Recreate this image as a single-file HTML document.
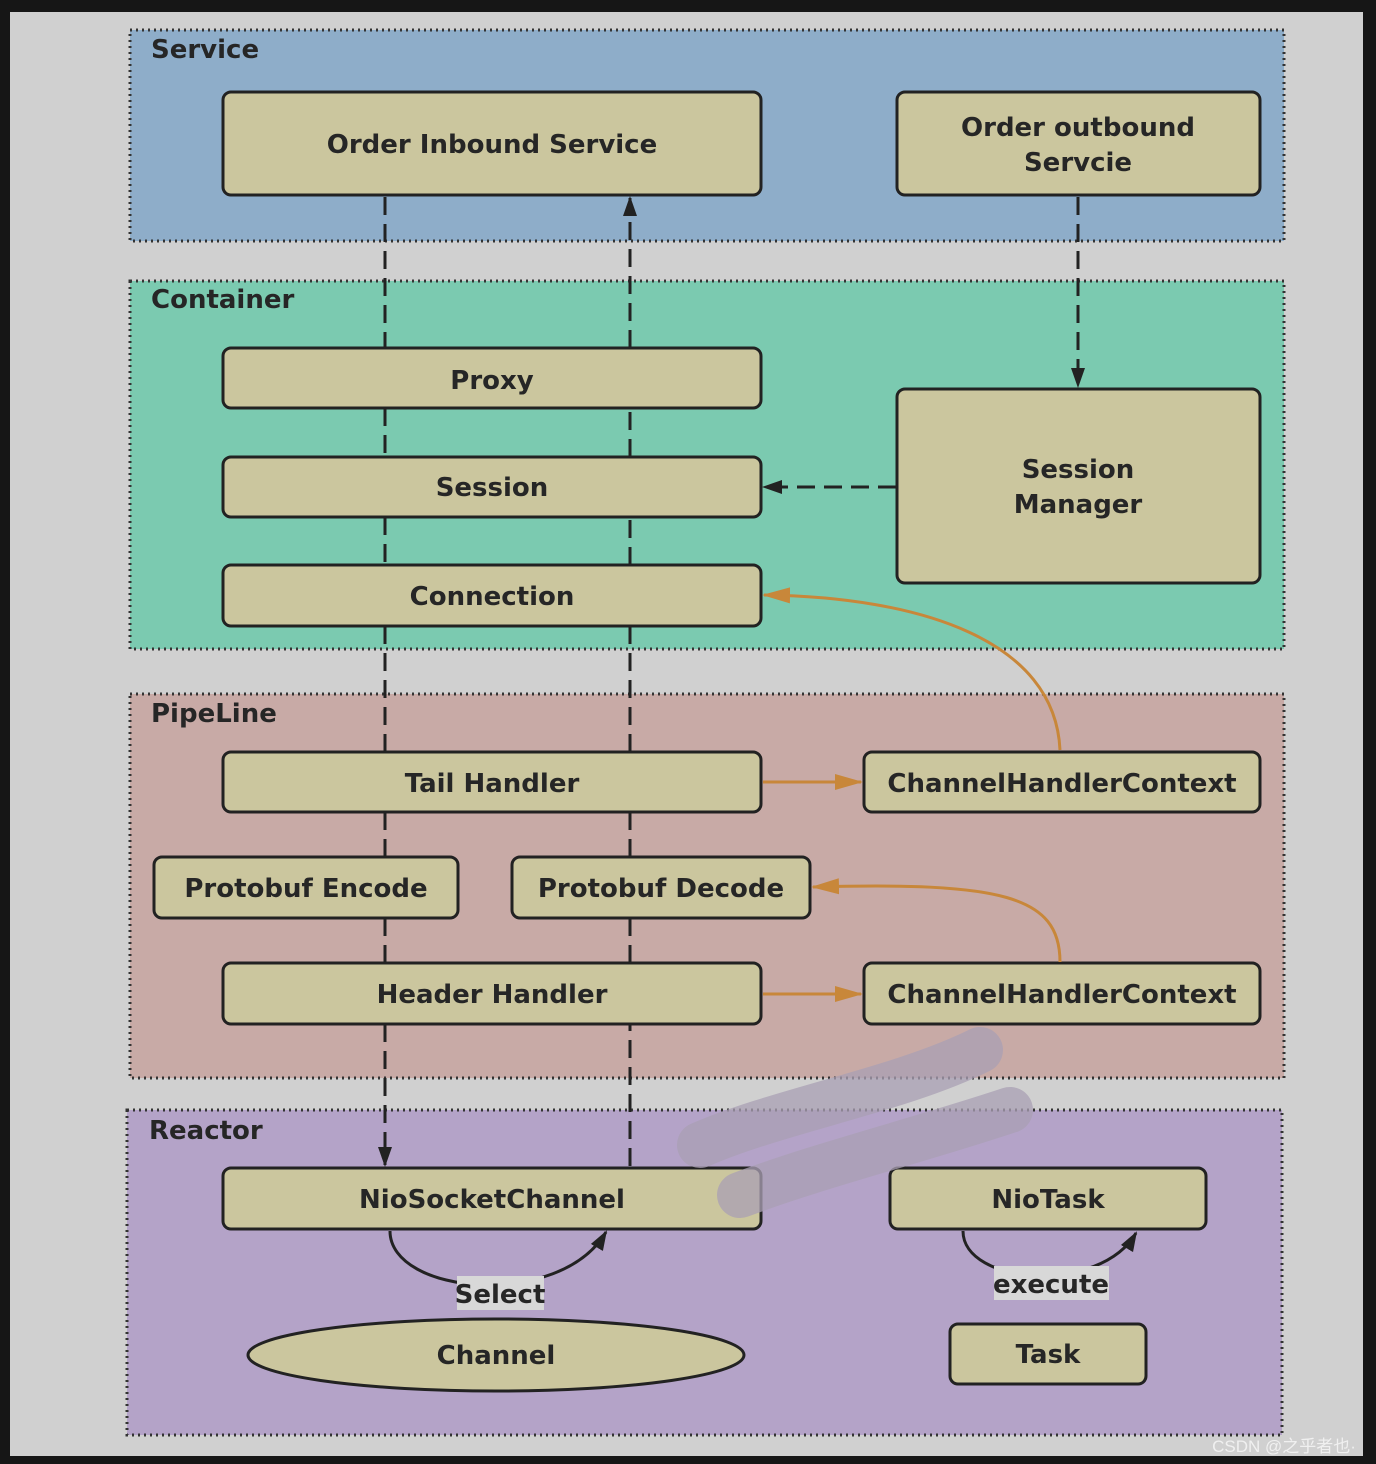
<!DOCTYPE html>
<html><head><meta charset="utf-8"><style>
html,body{margin:0;padding:0;background:#161616;}
svg{display:block;}
text{font-family:"DejaVu Sans","Liberation Sans",sans-serif;font-weight:bold;fill:#262626;}
</style></head><body>
<svg width="1376" height="1464" viewBox="0 0 1376 1464" xmlns="http://www.w3.org/2000/svg">
<defs>
<marker id="ak" markerWidth="20" markerHeight="20" refX="18" refY="10" orient="auto" markerUnits="userSpaceOnUse" viewBox="0 0 20 20"><path d="M0,3 L20,10 L0,17 z" fill="#222"/></marker>
<marker id="ao" markerWidth="28" markerHeight="20" refX="26" refY="10" orient="auto" markerUnits="userSpaceOnUse" viewBox="0 0 28 20"><path d="M0,2 L28,10 L0,18 z" fill="#c8873a"/></marker>
</defs>
<rect x="10" y="12" width="1353" height="1444" fill="#d0d0d0"/>
<g stroke="#333" stroke-width="3" stroke-dasharray="2 4">
<rect x="130" y="30" width="1154" height="211" fill="#8eadc9"/>
<rect x="130" y="281" width="1154" height="368" fill="#7bcab0"/>
<rect x="130" y="694" width="1154" height="384" fill="#c8aaa6"/>
<rect x="127" y="1110" width="1155" height="325" fill="#b4a3c8"/>
</g>
<g font-size="26">
<text x="151" y="58">Service</text>
<text x="151" y="308">Container</text>
<text x="151" y="722">PipeLine</text>
<text x="149" y="1139">Reactor</text>
</g>
<g fill="#cbc69e" stroke="#222" stroke-width="3">
<rect x="223" y="92" width="538" height="103" rx="8"/>
<rect x="897" y="92" width="363" height="103" rx="8"/>
<rect x="223" y="348" width="538" height="60" rx="8"/>
<rect x="223" y="457" width="538" height="60" rx="8"/>
<rect x="223" y="565" width="538" height="61" rx="8"/>
<rect x="897" y="389" width="363" height="194" rx="8"/>
<rect x="223" y="752" width="538" height="60" rx="8"/>
<rect x="864" y="752" width="396" height="60" rx="8"/>
<rect x="154" y="857" width="304" height="61" rx="8"/>
<rect x="512" y="857" width="298" height="61" rx="8"/>
<rect x="223" y="963" width="538" height="61" rx="8"/>
<rect x="864" y="963" width="396" height="61" rx="8"/>
<rect x="223" y="1168" width="538" height="61" rx="8"/>
<rect x="890" y="1168" width="316" height="61" rx="8"/>
<rect x="950" y="1324" width="196" height="60" rx="8"/>
<ellipse cx="496" cy="1355" rx="248" ry="36"/>
</g>
<g stroke="#222" stroke-width="3" stroke-dasharray="18 9" fill="none">
<line x1="385" y1="197" x2="385" y2="348"/><line x1="385" y1="408" x2="385" y2="457"/><line x1="385" y1="517" x2="385" y2="565"/><line x1="385" y1="626" x2="385" y2="752"/><line x1="385" y1="812" x2="385" y2="857"/><line x1="385" y1="918" x2="385" y2="963"/>
<line x1="385" y1="1024" x2="385" y2="1165" marker-end="url(#ak)"/>
<line x1="630" y1="1166" x2="630" y2="1024"/><line x1="630" y1="963" x2="630" y2="918"/><line x1="630" y1="857" x2="630" y2="812"/><line x1="630" y1="752" x2="630" y2="626"/><line x1="630" y1="565" x2="630" y2="517"/><line x1="630" y1="457" x2="630" y2="408"/>
<line x1="630" y1="348" x2="630" y2="198" marker-end="url(#ak)"/>
<line x1="1078" y1="197" x2="1078" y2="386" marker-end="url(#ak)"/>
<line x1="896" y1="487" x2="764" y2="487" marker-end="url(#ak)"/>
</g>
<g stroke="#c8873a" stroke-width="3" fill="none">
<line x1="763" y1="782" x2="861" y2="782" marker-end="url(#ao)"/>
<line x1="763" y1="994" x2="861" y2="994" marker-end="url(#ao)"/>
<path d="M1060,750 C1055,640 920,597 764,595" marker-end="url(#ao)"/>
<path d="M1060,962 C1060,895 1000,882 813,887" marker-end="url(#ao)"/>
</g>
<g stroke="#222" stroke-width="3" fill="none">
<path d="M390,1231 C390,1295 560,1310 606,1232" marker-end="url(#ak)"/>
<path d="M963,1231 C963,1285 1100,1295 1136,1233" marker-end="url(#ak)"/>
</g>
<rect x="457" y="1276" width="87" height="34" fill="#d8d8d8"/>
<rect x="994" y="1266" width="115" height="34" fill="#d8d8d8"/>
<g font-size="26" text-anchor="middle">
<text x="492" y="153">Order Inbound Service</text>
<text x="1078" y="136">Order outbound</text>
<text x="1078" y="171">Servcie</text>
<text x="492" y="389">Proxy</text>
<text x="492" y="496">Session</text>
<text x="1078" y="478">Session</text>
<text x="1078" y="513">Manager</text>
<text x="492" y="605">Connection</text>
<text x="492" y="792">Tail Handler</text>
<text x="1062" y="792">ChannelHandlerContext</text>
<text x="306" y="897">Protobuf Encode</text>
<text x="661" y="897">Protobuf Decode</text>
<text x="492" y="1003">Header Handler</text>
<text x="1062" y="1003">ChannelHandlerContext</text>
<text x="492" y="1208">NioSocketChannel</text>
<text x="1048" y="1208">NioTask</text>
<text x="500" y="1303">Select</text>
<text x="1051" y="1293">execute</text>
<text x="496" y="1364">Channel</text>
<text x="1048" y="1363">Task</text>
</g>
<g stroke="#aaa0b4" stroke-width="46" stroke-linecap="round" fill="none" opacity="0.75">
<path d="M700,1145 C780,1110 900,1090 980,1050"/>
<path d="M740,1195 C820,1165 920,1140 1010,1110"/>
</g>
<text x="1284" y="1452" font-size="17" text-anchor="middle" style="fill:#f0f0f0;font-family:'Liberation Sans','Noto Sans CJK SC',sans-serif;font-weight:normal">CSDN @之乎者也·</text>
</svg>
</body></html>
